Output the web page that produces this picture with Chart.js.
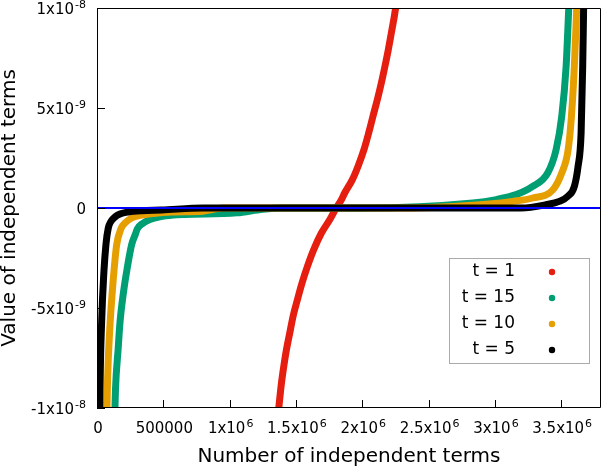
<!DOCTYPE html>
<html>
<head>
<meta charset="utf-8">
<script src="https://cdn.jsdelivr.net/npm/chart.js@4"></script>
<style>
  html, body { margin: 0; padding: 0; background: #fff; }
  canvas { display: block; }
</style>
</head>
<body>
<canvas id="chart" width="603" height="468"></canvas>
<script>
// series (x = number of terms, y = value)
const redX = [1370500, 1390800, 1408100, 1428400, 1453300, 1478100, 1511300, 1545900, 1586600, 1634000, 1692000, 1754500, 1803400,
  1842600, 1867400, 1925400, 1967600, 2012800, 2048200, 2080500, 2113700, 2143800, 2170900, 2196500, 2219100, 2241700, 2251500];
const redY = [-1.0e-8, -0.875e-8, -0.792e-8, -0.708e-8, -0.625e-8, -0.542e-8, -0.458e-8, -0.375e-8, -0.292e-8, -0.208e-8, -0.125e-8, -0.059e-8, 0,
  0.0415e-8, 0.075e-8, 0.142e-8, 0.208e-8, 0.292e-8, 0.375e-8, 0.458e-8, 0.542e-8, 0.625e-8, 0.708e-8, 0.792e-8, 0.875e-8, 0.958e-8, 1.0e-8];

const greenX = [135500, 139300, 160000, 173200, 200000, 228000, 261300, 290000, 303500, 344100, 399100, 474400, 574500, 662600, 1054000, 1250000, 1400000,
  2000000, 2834000, 3010000, 3160000, 3285000, 3398000, 3461000, 3504000, 3537000, 3557000];
const greenY = [-1.0e-8, -0.908e-8, -0.70e-8, -0.573e-8, -0.42e-8, -0.30e-8, -0.1835e-8, -0.13e-8, -0.105e-8, -0.077e-8, -0.057e-8, -0.0435e-8, -0.035e-8, -0.032e-8, -0.024e-8, -0.006e-8, 0,
  0, 0.025e-8, 0.042e-8, 0.067e-8, 0.108e-8, 0.175e-8, 0.29e-8, 0.458e-8, 0.708e-8, 1.0e-8];

const orangeX = [75300, 80000, 95000, 115000, 130000, 148300, 180700, 216100, 261300, 323800, 423900, 562500, 798000, 950000,
  2300000, 2959000, 3135000, 3285000, 3436000, 3504000, 3552000, 3577000, 3599000, 3617000];
const orangeY = [-1.0e-8, -0.85e-8, -0.62e-8, -0.42e-8, -0.30e-8, -0.1835e-8, -0.1035e-8, -0.072e-8, -0.05e-8, -0.037e-8, -0.027e-8, -0.02e-8, -0.016e-8, 0,
  0, 0.02e-8, 0.033e-8, 0.05e-8, 0.09e-8, 0.175e-8, 0.29e-8, 0.458e-8, 0.708e-8, 1.0e-8];

const blackX = [22000, 23000, 35000, 52000, 67800, 85100, 105400, 135500, 173200, 235700, 336600, 487200, 800000,
  3200000, 3386000, 3486000, 3549000, 3599000, 3627000, 3650000, 3662000, 3669000];
const blackY = [-1.0e-8, -0.91e-8, -0.57e-8, -0.32e-8, -0.18e-8, -0.10e-8, -0.067e-8, -0.045e-8, -0.03e-8, -0.02e-8, -0.0135e-8, -0.01e-8, 0,
  0, 0.0165e-8, 0.033e-8, 0.058e-8, 0.108e-8, 0.208e-8, 0.375e-8, 0.708e-8, 1.0e-8];

const zeroX = [0, 3800000];
const zeroY = [0, 0];

const seriesLabels = ['t = 1', 't = 15', 't = 10', 't = 5'];
const seriesColors = ['#e51e10', '#009e73', '#e69f00', '#000000'];

// '^' marks the superscript part of a tick label
const xTicks = [0, 500000, 1000000, 1500000, 2000000, 2500000, 3000000, 3500000];
const xTickLabels = ['0', '500000', '1x10^6', '1.5x10^6', '2x10^6', '2.5x10^6', '3x10^6', '3.5x10^6'];
const yTicks = [-1e-8, -5e-9, 0, 5e-9, 1e-8];
const yTickLabels = ['-1x10^-8', '-5x10^-9', '0', '5x10^-9', '1x10^-8'];

const FONT = '"DejaVu Sans"';
const TICK_FONT = '15px ' + FONT;
const SUP_FONT = '11px ' + FONT;

function pts(xs, ys) { return xs.map((x, i) => ({ x, y: ys[i] })); }

function curve(label, xs, ys, color, order) {
  return {
    label, data: pts(xs, ys), order,
    showLine: true, borderColor: color, backgroundColor: color,
    borderWidth: 7, pointRadius: 0, cubicInterpolationMode: 'monotone',
    borderCapStyle: 'round', borderJoinStyle: 'round'
  };
}

// draws "base^sup" with align 'center' or 'right' at baseline y
function drawLabel(ctx, text, x, y, align) {
  const [base, sup = ''] = text.split('^');
  ctx.font = TICK_FONT;
  const wb = ctx.measureText(base).width;
  ctx.font = SUP_FONT;
  const ws = sup ? ctx.measureText(sup).width + 1 : 0;
  const w = wb + ws;
  const x0 = align === 'right' ? x - w : x - w / 2;
  ctx.textAlign = 'left';
  ctx.textBaseline = 'alphabetic';
  ctx.font = TICK_FONT;
  ctx.fillText(base, x0, y);
  if (sup) {
    ctx.font = SUP_FONT;
    ctx.fillText(sup, x0 + wb + 1, y - 6);
  }
}

// box, inward tick marks, tick labels and the gnuplot style key
const frame = {
  id: 'frame',
  afterDraw(chart) {
    const { ctx, chartArea: a, scales } = chart;
    ctx.save();
    ctx.strokeStyle = '#000';
    ctx.lineWidth = 1;
    ctx.beginPath();
    ctx.rect(Math.round(a.left) + 0.5, Math.round(a.top) + 0.5, Math.round(a.right - a.left) - 1, Math.round(a.bottom - a.top) - 1);
    xTicks.forEach(v => {
      const px = Math.round(scales.x.getPixelForValue(v)) + 0.5;
      ctx.moveTo(px, a.bottom); ctx.lineTo(px, a.bottom - 8);
    });
    yTicks.forEach(v => {
      const py = Math.round(scales.y.getPixelForValue(v)) + 0.5;
      ctx.moveTo(a.left, py); ctx.lineTo(a.left + 8, py);
    });
    ctx.stroke();

    ctx.fillStyle = '#000';
    xTicks.forEach((v, i) => drawLabel(ctx, xTickLabels[i], scales.x.getPixelForValue(v) + 1, a.bottom + 25, 'center'));
    yTicks.forEach((v, i) => drawLabel(ctx, yTickLabels[i], a.left - 11, scales.y.getPixelForValue(v) + 6, 'right'));

    // key
    const kx = a.right - 152, ky = a.top + 250;
    ctx.strokeStyle = '#aaaaaa';
    ctx.strokeRect(kx + 0.5, ky + 0.5, 140, 105);
    ctx.font = '17px ' + FONT;
    ctx.textAlign = 'right';
    ctx.textBaseline = 'middle';
    seriesLabels.forEach((lab, i) => {
      const y = ky + 14 + i * 26;
      ctx.fillStyle = '#000';
      ctx.fillText(lab, kx + 66, y);
      ctx.fillStyle = seriesColors[i];
      ctx.beginPath();
      ctx.arc(kx + 103, y, 3.2, 0, Math.PI * 2);
      ctx.fill();
    });
    ctx.restore();
  }
};

new Chart(document.getElementById('chart'), {
  type: 'scatter',
  data: {
    datasets: [
      curve(seriesLabels[0], redX, redY, seriesColors[0], 4),
      curve(seriesLabels[1], greenX, greenY, seriesColors[1], 3),
      curve(seriesLabels[2], orangeX, orangeY, seriesColors[2], 2),
      curve(seriesLabels[3], blackX, blackY, seriesColors[3], 1),
      { label: 'zero', data: pts(zeroX, zeroY), order: 0, showLine: true, borderColor: '#0000ff', borderWidth: 2, pointRadius: 0 }
    ]
  },
  options: {
    responsive: false,
    animation: false,
    layout: { padding: { left: 0, right: 2, top: 8, bottom: 0 } },
    plugins: { legend: { display: false }, tooltip: { enabled: false } },
    scales: {
      x: {
        type: 'linear', min: 0, max: 3800000,
        grid: { display: false }, border: { display: false },
        afterBuildTicks: s => { s.ticks = xTicks.map(v => ({ value: v })); },
        afterFit: s => { s.height = 60; s.paddingLeft = 0; s.paddingRight = 0; },
        ticks: { display: false },
        title: { display: true, text: 'Number of independent terms', color: '#000',
          font: { family: 'DejaVu Sans', size: 20, lineHeight: 1.1 }, padding: { top: 0, bottom: 0 } }
      },
      y: {
        type: 'linear', min: -1e-8, max: 1e-8,
        grid: { display: false }, border: { display: false },
        afterBuildTicks: s => { s.ticks = yTicks.map(v => ({ value: v })); },
        afterFit: s => { s.width = 97; s.paddingTop = 0; s.paddingBottom = 0; },
        ticks: { display: false },
        title: { display: true, text: 'Value of independent terms', color: '#000',
          font: { family: 'DejaVu Sans', size: 20, lineHeight: 1.0 }, padding: { top: 0, bottom: 0 } }
      }
    }
  },
  plugins: [frame]
});
</script>
</body>
</html>
